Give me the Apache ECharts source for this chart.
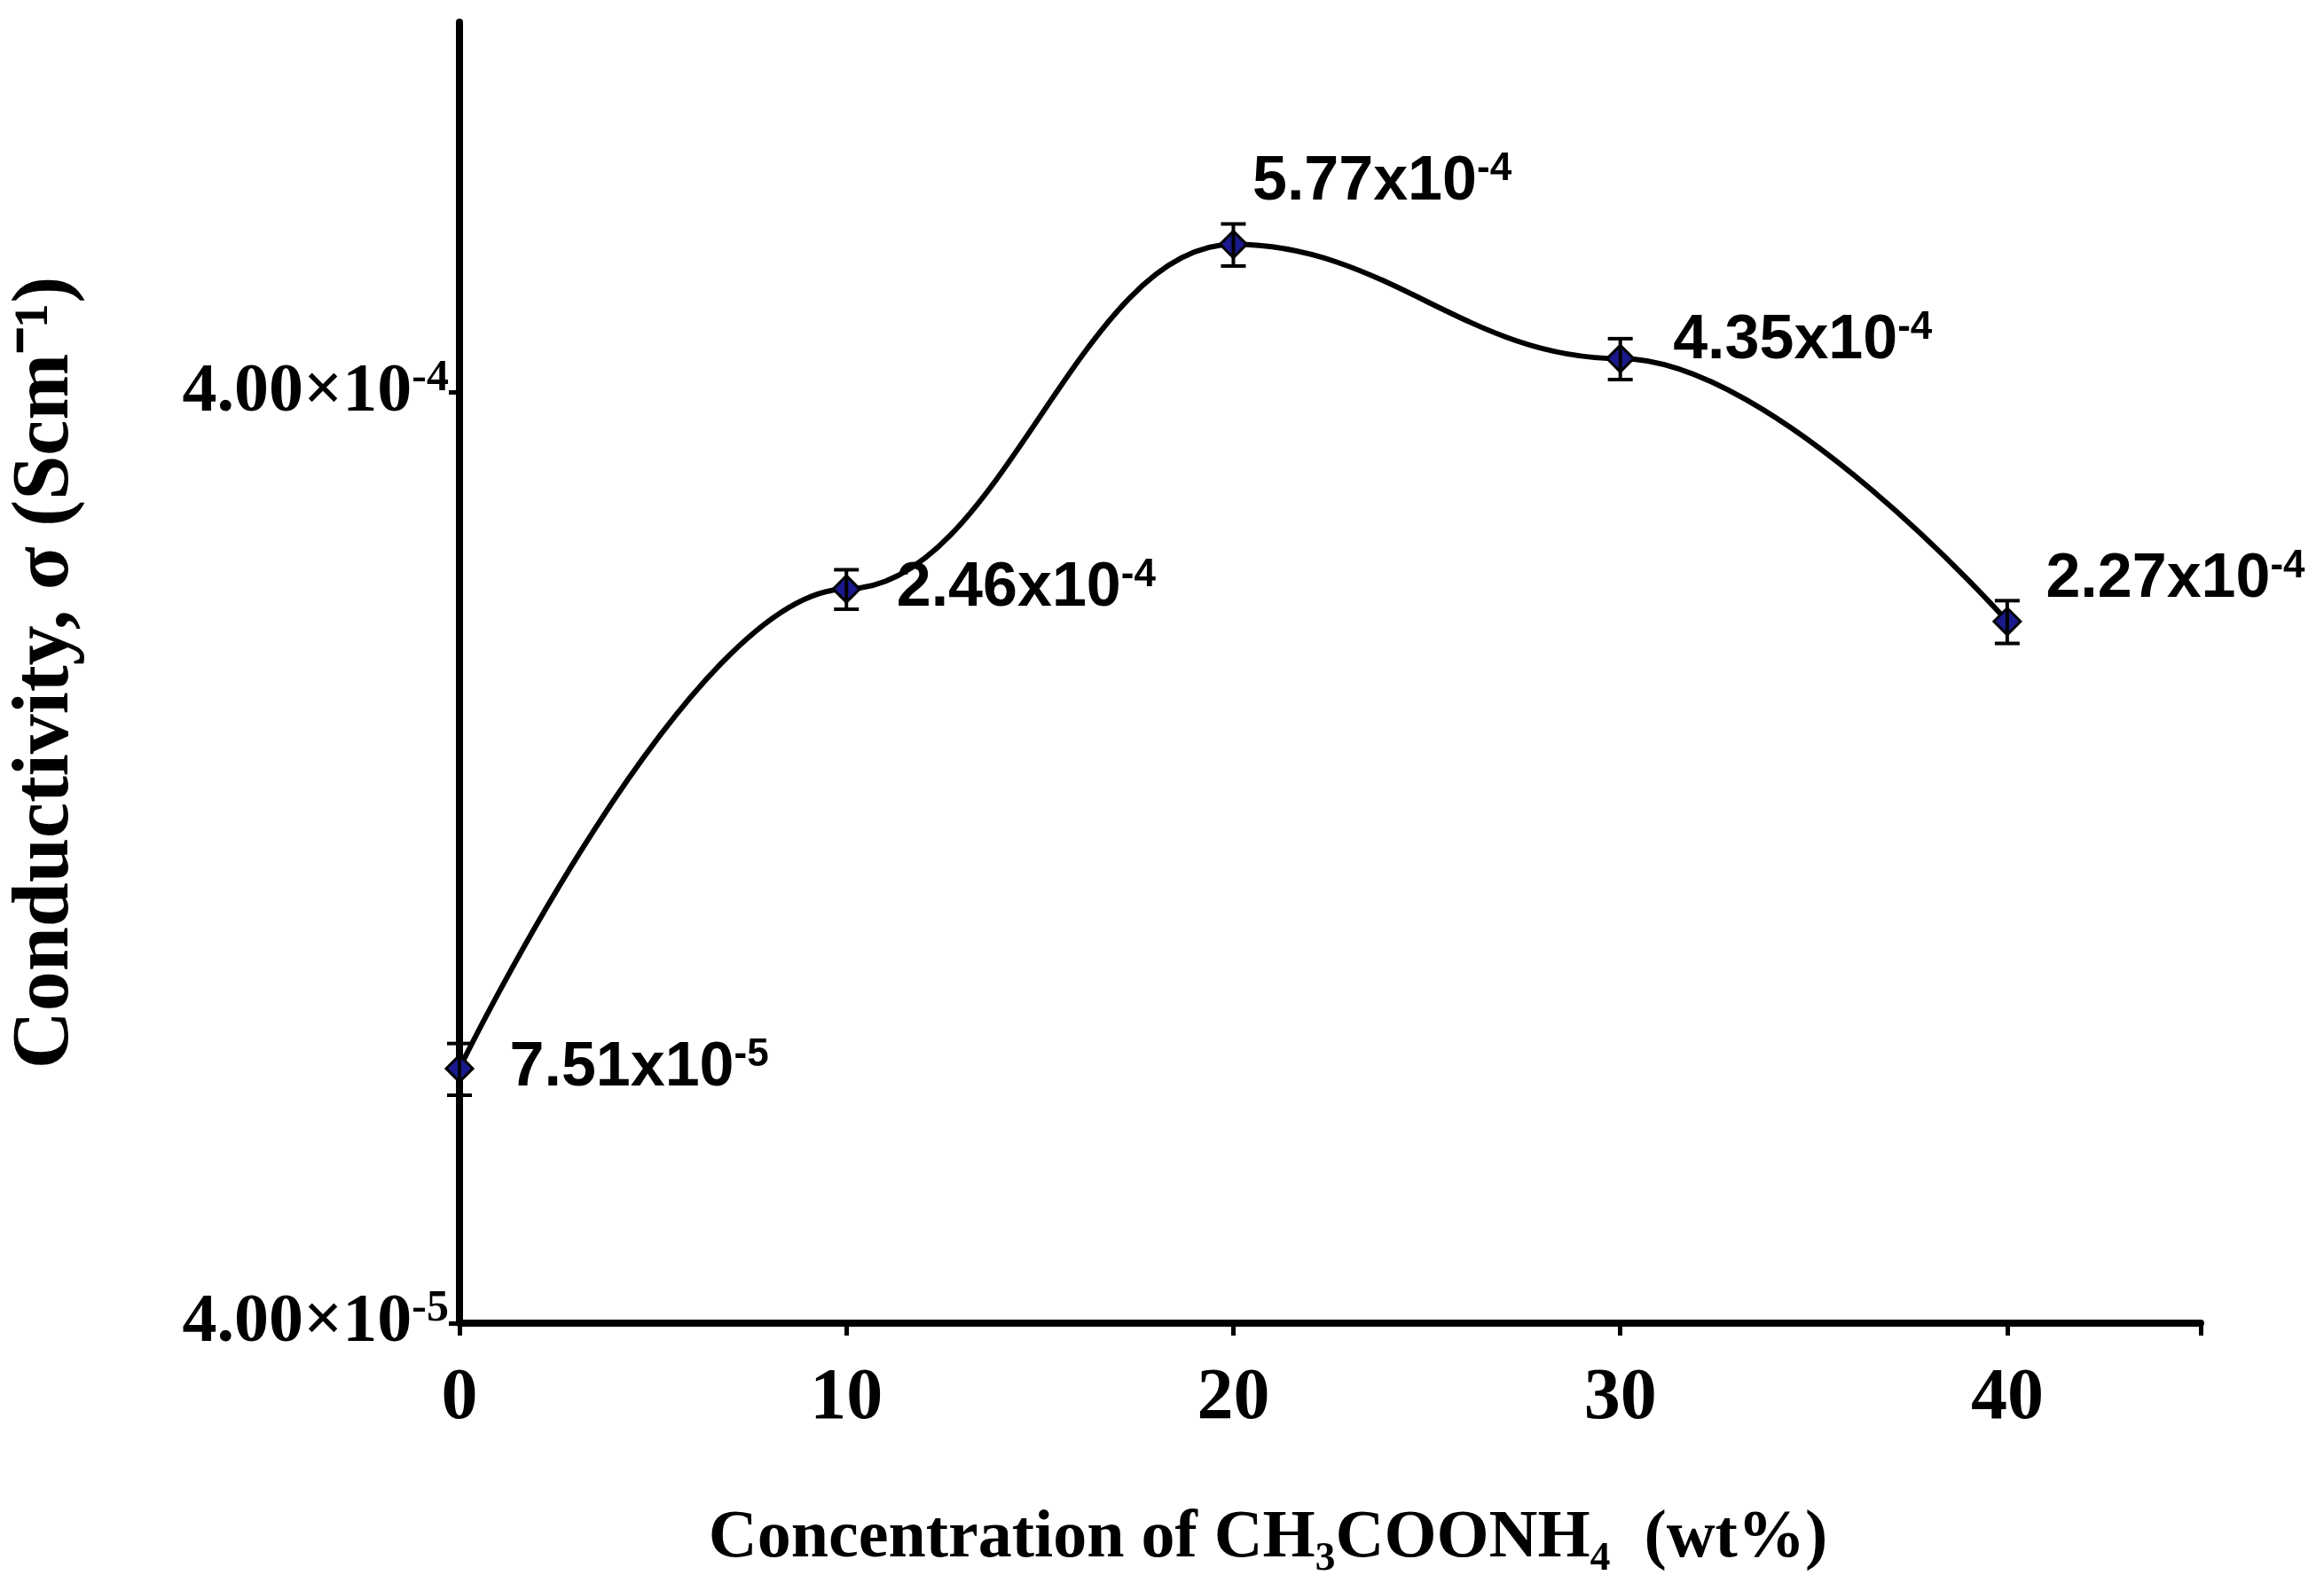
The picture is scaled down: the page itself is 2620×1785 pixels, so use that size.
<!DOCTYPE html>
<html><head><meta charset="utf-8">
<script src="https://cdn.jsdelivr.net/npm/echarts@6/dist/echarts.min.js"></script>
<style>html,body{margin:0;background:#fff}#c{width:2620px;height:1785px}</style>
</head><body><div id="c"></div>
<script>
const concentrations = [0, 10, 20, 30, 40];
const conductivity = [7.51e-5, 2.46e-4, 5.77e-4, 4.35e-4, 2.27e-4];
const errors = [0.048e-4, 0.12e-4, 0.3e-4, 0.22e-4, 0.12e-4];
const pointLabels = [['7.51', '-5'], ['2.46', '-4'], ['5.77', '-4'], ['4.35', '-4'], ['2.27', '-4']];
const yTickLabels = [['4.00', '-5'], ['4.00', '-4']];

const L = Math.log10;
const yMin = L(4e-5), yMax = L(1e-3);
const chart = echarts.init(document.getElementById('c'));
const lineData = concentrations.map((x, i) => [x, L(conductivity[i])]);
const errData = concentrations.map((x, i) => [x, L(conductivity[i] - errors[i]), L(conductivity[i] + errors[i])]);
const labelOffsets = [[35, 0], [35, 0], [0, -70], [38, -20], [22, -47]];
const serif = 'Liberation Serif';
chart.setOption({
  animation: false,
  grid: {left: 501, right: 139, top: 25, bottom: 293},
  xAxis: {
    type: 'value', min: 0, max: 45, interval: 10,
    axisLine: {lineStyle: {color: '#000', width: 8}},
    axisTick: {show: true, length: 14, lineStyle: {width: 5, color: '#000'}},
    splitLine: {show: false},
    axisLabel: {fontFamily: serif, fontWeight: 'bold', fontSize: 82, color: '#000', margin: 45,
      formatter: v => v > 40 ? '' : v},
    name: 'Concentration of CH\u2083COONH\u2084  (wt%)', nameLocation: 'middle', nameGap: 205,
    nameTextStyle: {fontFamily: serif, fontWeight: 'bold', fontSize: 76, color: '#000', padding: [0, 0, 0, -140]}
  },
  yAxis: {
    type: 'value', min: yMin, max: yMax, interval: 1,
    axisLine: {show: true, lineStyle: {color: '#000', width: 8}},
    axisTick: {show: true, length: 12, lineStyle: {width: 5, color: '#000'}, customValues: [yMin, yMin + 1]},
    splitLine: {show: false},
    axisLabel: {margin: 12, customValues: [yMin, yMin + 1], formatter: (v) => {
        const t = yTickLabels[Math.round(v - yMin)]; if (!t) return '';
        return '{b|' + t[0] + '\u00d710}{s|' + t[1] + '}';
      },
      rich: {b: {fontFamily: serif, fontWeight: 'bold', fontSize: 78, color: '#000'},
             s: {fontFamily: serif, fontWeight: 'bold', fontSize: 50, color: '#000', verticalAlign: 'top', padding: [0, 0, 32, 0]}}},
    name: 'Conductivity, \u03c3 (Scm\u207b\u00b9)', nameLocation: 'middle', nameGap: 420, nameRotate: 90,
    nameTextStyle: {fontFamily: serif, fontWeight: 'bold', fontSize: 90, color: '#000'}
  },
  series: [
    {type: 'line', data: lineData, smooth: 0.4, smoothMonotone: 'x', symbol: 'diamond', symbolSize: 30,
      lineStyle: {color: '#000', width: 6},
      itemStyle: {color: '#1a1a8c', borderColor: '#000', borderWidth: 3},
      label: {show: true, formatter: p => '{b|' + pointLabels[p.dataIndex][0] + 'x10}{s|' + pointLabels[p.dataIndex][1] + '}',
        position: 'right',
        rich: {b: {fontFamily: 'Liberation Sans', fontWeight: 'bold', fontSize: 70, color: '#000'},
               s: {fontFamily: 'Liberation Sans', fontWeight: 'bold', fontSize: 44, color: '#000', verticalAlign: 'top', padding: [0, 0, 30, 0]}}},
      labelLayout: p => ({dx: labelOffsets[p.dataIndex][0], dy: labelOffsets[p.dataIndex][1]}),
      z: 3},
    {type: 'custom', data: errData, z: 4,
      renderItem: (params, api) => {
        const x = api.coord([api.value(0), api.value(1)])[0];
        const y1 = api.coord([0, api.value(1)])[1];
        const y2 = api.coord([0, api.value(2)])[1];
        const st = {stroke: '#000', lineWidth: 4};
        return {type: 'group', children: [
          {type: 'line', shape: {x1: x, y1: y1, x2: x, y2: y2}, style: st},
          {type: 'line', shape: {x1: x - 14, y1: y1, x2: x + 14, y2: y1}, style: st},
          {type: 'line', shape: {x1: x - 14, y1: y2, x2: x + 14, y2: y2}, style: st}
        ]};
      }}
  ]
});
</script></body></html>
